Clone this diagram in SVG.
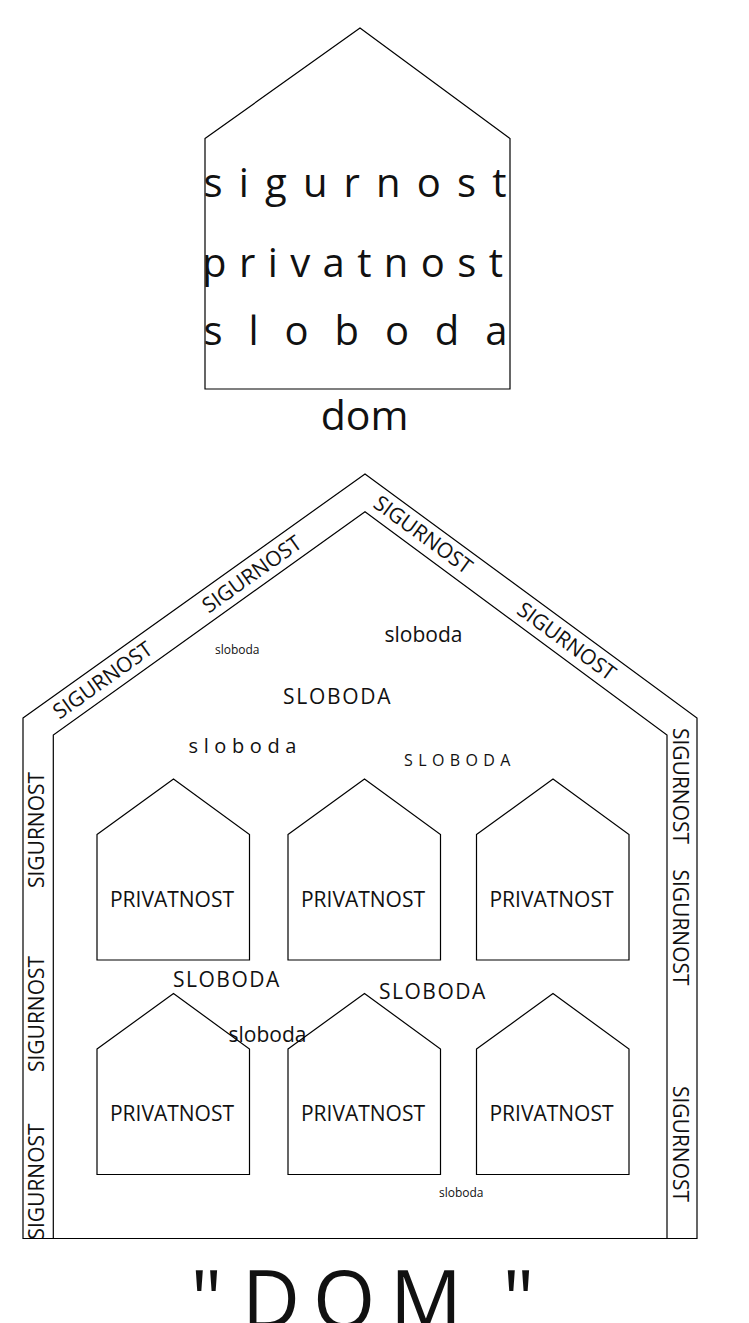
<svg xmlns="http://www.w3.org/2000/svg" width="749" height="1323" viewBox="0 0 749 1323">
<style>
.ln{fill:none;stroke:#000;stroke-width:1.2;stroke-linejoin:miter}
.t{font-family:"Open Sans","Noto Sans",sans-serif;fill:#111}
.big{font-size:40px}
.pv{font-size:21px;text-anchor:middle}
.sg{font-size:21px;text-anchor:middle}
.m{font-size:21px}
.s{font-size:12px}
</style>
<rect width="749" height="1323" fill="#fff"/>
<g id="dom-small">
<polygon class="ln" points="205,138.5 360,28 510,138.5 510,389 205,389"/>
<text class="t big" x="203.5" y="197" textLength="303" lengthAdjust="spacing">sigurnost</text>
<text class="t big" x="202" y="276.5" textLength="301" lengthAdjust="spacing">privatnost</text>
<text class="t big" x="203.5" y="345" textLength="304" lengthAdjust="spacing">sloboda</text>
<text class="t" x="364.5" y="430" font-size="41" text-anchor="middle">dom</text>
</g>
<g id="dom-big">
<polygon class="ln" points="23,718 365,474 697,718 697,1238.5 23,1238.5"/>
<polyline class="ln" points="53.3,1238.5 53.3,735 365,511.7 667,735 667,1238.5"/>
<text class="t sg" transform="translate(102.5,680) rotate(-35.5)" y="7.5">SIGURNOST</text>
<text class="t sg" transform="translate(251.7,574) rotate(-35.5)" y="7.5">SIGURNOST</text>
<text class="t sg" transform="translate(423.3,534.5) rotate(36.3)" y="7.5">SIGURNOST</text>
<text class="t sg" transform="translate(566.7,641) rotate(36.3)" y="7.5">SIGURNOST</text>
<text class="t sg" transform="translate(44.3,830) rotate(-90)">SIGURNOST</text>
<text class="t sg" transform="translate(44.3,1014) rotate(-90)">SIGURNOST</text>
<text class="t sg" transform="translate(44.3,1181.5) rotate(-90)">SIGURNOST</text>
<text class="t sg" transform="translate(672.7,786) rotate(90)">SIGURNOST</text>
<text class="t sg" transform="translate(672.7,927.5) rotate(90)">SIGURNOST</text>
<text class="t sg" transform="translate(672.7,1144) rotate(90)">SIGURNOST</text>
<text class="t s" x="215" y="654.3">sloboda</text>
<text class="t m" x="384.5" y="641.7">sloboda</text>
<text class="t m" x="283" y="704" letter-spacing="1.7">SLOBODA</text>
<text class="t" x="188.5" y="752.7" font-size="20" letter-spacing="5.6">sloboda</text>
<text class="t" x="404" y="765.7" font-size="16" letter-spacing="5.4">SLOBODA</text>
<text class="t m" x="173" y="986.7" letter-spacing="1.5">SLOBODA</text>
<text class="t m" x="379" y="999.3" letter-spacing="1.5">SLOBODA</text>
<text class="t m" x="228.5" y="1041.7">sloboda</text>
<text class="t s" x="439" y="1197">sloboda</text>
</g>
<g id="house-1">
<polygon class="ln" points="97,834.5 173.5,779 249.5,834.5 249.5,960 97,960"/>
<text class="t pv" x="172" y="906.7">PRIVATNOST</text>
</g>
<g id="house-2">
<polygon class="ln" points="288,834.5 364.5,779 440.5,834.5 440.5,960 288,960"/>
<text class="t pv" x="363" y="906.7">PRIVATNOST</text>
</g>
<g id="house-3">
<polygon class="ln" points="476.5,834.5 553,779 629,834.5 629,960 476.5,960"/>
<text class="t pv" x="551.5" y="906.7">PRIVATNOST</text>
</g>
<g id="house-4">
<polygon class="ln" points="97,1049 173.5,993.5 249.5,1049 249.5,1174.5 97,1174.5"/>
<text class="t pv" x="172" y="1121.2">PRIVATNOST</text>
</g>
<g id="house-5">
<polygon class="ln" points="288,1049 364.5,993.5 440.5,1049 440.5,1174.5 288,1174.5"/>
<text class="t pv" x="363" y="1121.2">PRIVATNOST</text>
</g>
<g id="house-6">
<polygon class="ln" points="476.5,1049 553,993.5 629,1049 629,1174.5 476.5,1174.5"/>
<text class="t pv" x="551.5" y="1121.2">PRIVATNOST</text>
</g>
<g id="connectors"></g>
<text id="title" class="t" x="190.5 242 313 390 502.5" y="1328" font-size="80">"DOM"</text>
</svg>
